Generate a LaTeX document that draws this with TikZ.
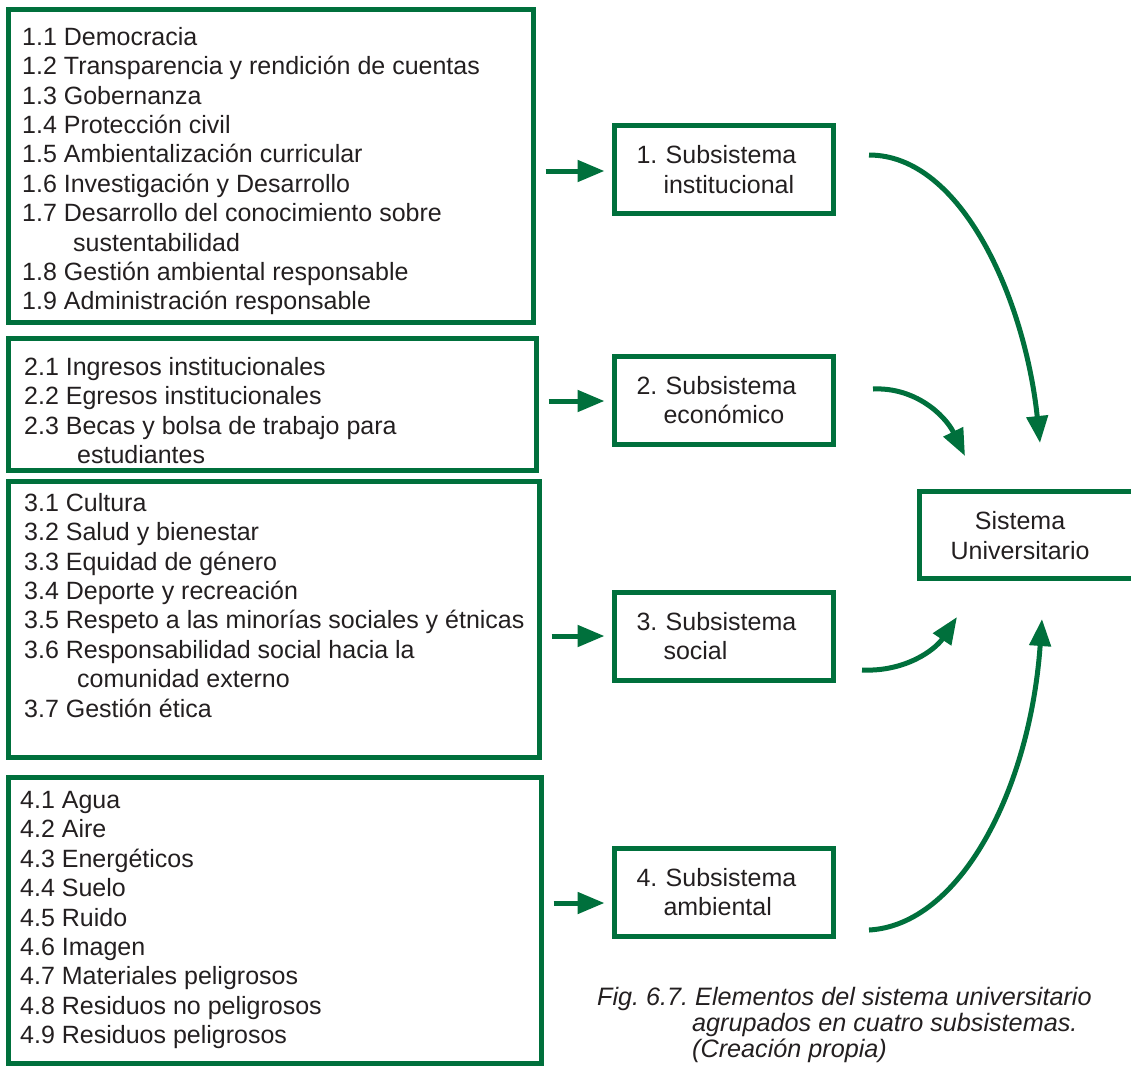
\documentclass[tikz,border=0pt]{standalone}
\usepackage{fontspec}
\setmainfont{Liberation Sans}
\usetikzlibrary{arrows.meta,calc}
\definecolor{ugreen}{RGB}{0,112,60}
\definecolor{ink}{RGB}{35,31,32}

\begin{document}
\frenchspacing
\begin{tikzpicture}[x=1pt,y=-1pt,
  frame/.style={draw=ugreen, line width=5pt, inner sep=0pt, outer sep=0pt, anchor=north west},
  listtext/.style={anchor=north west, inner sep=0pt, align=left, text=ink,
    font=\fontsize{25}{29.4}\selectfont},
  subbox/.style={draw=ugreen, line width=5pt, minimum width=219pt, minimum height=88pt,
    outer sep=0pt, inner xsep=22pt, inner ysep=0pt, text width=175pt, align=left, text=ink,
    font=\fontsize{25}{29.4}\selectfont},
  arr/.style={draw=ugreen, line width=5pt, -{Triangle[length=27pt,width=21pt]}},
]
\useasboundingbox (0,0) rectangle (1131,1065);

% left-hand lists of elements
\node[frame, minimum width=525pt, minimum height=312pt] (L1) at (8.5,10) {};
\node[frame, minimum width=528pt, minimum height=132pt] (L2) at (8.5,338) {};
\node[frame, minimum width=531pt, minimum height=276pt] (L3) at (8.5,481) {};
\node[frame, minimum width=533pt, minimum height=286pt] (L4) at (8.5,777) {};

\node[listtext] (T1) at (22,27) {1.1 Democracia\\
1.2 Transparencia y rendición de cuentas\\
1.3 Gobernanza\\
1.4 Protección civil\\
1.5 Ambientalización curricular\\
1.6 Investigación y Desarrollo\\
1.7 Desarrollo del conocimiento sobre\\
\hspace*{51pt}sustentabilidad\\
1.8 Gestión ambiental responsable\\
1.9 Administración responsable};

\node[listtext] (T2) at (24,357) {2.1 Ingresos institucionales\\
2.2 Egresos institucionales\\
2.3 Becas y bolsa de trabajo para\\
\hspace*{53pt}estudiantes};

\node[listtext] (T3) at (24,493) {3.1 Cultura\\
3.2 Salud y bienestar\\
3.3 Equidad de género\\
3.4 Deporte y recreación\\
3.5 Respeto a las minorías sociales y étnicas\\
3.6 Responsabilidad social hacia la\\
\hspace*{53pt}comunidad externo\\
3.7 Gestión ética};

\node[listtext] (T4) at (20,791) {4.1 Agua\\
4.2 Aire\\
4.3 Energéticos\\
4.4 Suelo\\
4.5 Ruido\\
4.6 Imagen\\
4.7 Materiales peligrosos\\
4.8 Residuos no peligrosos\\
4.9 Residuos peligrosos};

% the four subsystems
\node[subbox] (S1) at (724,169.5) {1. Subsistema\\\hspace*{27pt}institucional};
\node[subbox] (S2) at (724,400) {2. Subsistema\\\hspace*{27pt}económico};
\node[subbox] (S3) at (724,636) {3. Subsistema\\\hspace*{27pt}social};
\node[subbox] (S4) at (724,892) {4. Subsistema\\\hspace*{27pt}ambiental};

% the whole system
\node[frame, minimum width=240pt, minimum height=87pt] (SU) at (919,491) {};
\node[align=center, inner sep=0pt, text=ink, font=\fontsize{25}{29.4}\selectfont]
  (SUt) at (1020,535.5) {Sistema\\Universitario};

% straight arrows from each list to its subsystem
\coordinate (in1) at ($(S1.west)+(0,1.5)$);
\coordinate (in2) at ($(S2.west)+(0,1)$);
\coordinate (in3) at (S3.west);
\coordinate (in4) at ($(S4.west)+(0,11)$);
\foreach \i in {1,...,4}
  \draw[arr, shorten <=12pt, shorten >=10pt] (L\i.east |- in\i) -- (in\i);

% curved arrows from the subsystems to the system
\coordinate (a1s) at (869,155);  \coordinate (a1e) at (1040,443);
\coordinate (a2s) at (873,389);  \coordinate (a2e) at (965,456);
\coordinate (a3s) at (862,670);  \coordinate (a3e) at (957,617);
\coordinate (a4s) at (869,930);  \coordinate (a4e) at (1042,619);
\draw[arr] (a1s) .. controls (962,155) and (1025,300) .. (a1e);
\draw[arr] (a2s) .. controls (915,387) and (945,415) .. (a2e);
\draw[arr] (a3s) .. controls (905,672) and (935,650) .. (a3e);
\draw[arr] (a4s) .. controls (960,925) and (1030,790) .. (a4e);

% caption
\node[anchor=north west, inner sep=0pt, align=left, text=ink,
  font=\fontsize{25.2}{26}\selectfont\itshape] (cap) at (597,987)
  {Fig. 6.7. Elementos del sistema universitario\\
  \hspace*{95pt}agrupados en cuatro subsistemas.\\
  \hspace*{95pt}(Creación propia)};
\end{tikzpicture}
\end{document}
